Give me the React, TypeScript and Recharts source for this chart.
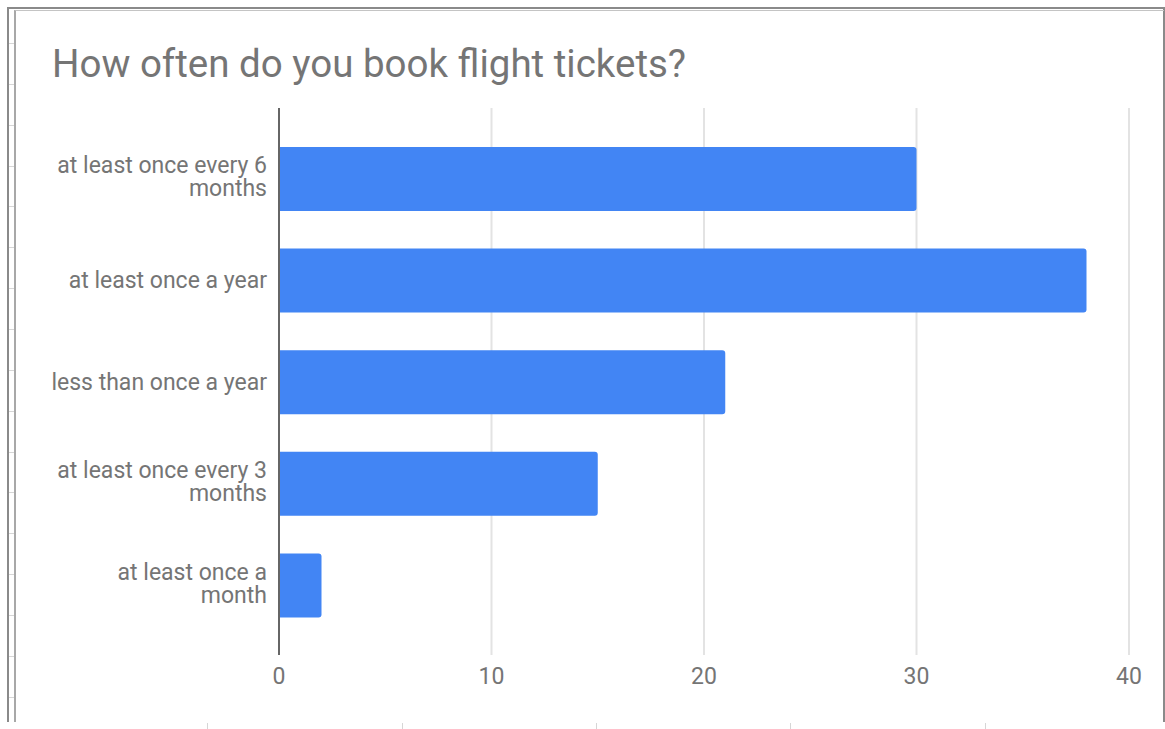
import { BarChart, Bar, XAxis, YAxis, CartesianGrid } from 'recharts'

const categories = [
  'at least once every 6 months',
  'at least once a year',
  'less than once a year',
  'at least once every 3 months',
  'at least once a month',
]
const responses = [30, 38, 21, 15, 2]
const xTicks = [0, 10, 20, 30, 40]

const data = categories.map((name, i) => ({ name, value: responses[i] }))

const leftMarks = Array.from({ length: 17 }, (_, i) => 43 + i * 40.85)
const edgeMarks = [207, 402, 596, 790, 985]

const LABEL_FONT = '23px Roboto'
const LABEL_MAX = 218

let ctx: CanvasRenderingContext2D | null = null
function measure(s: string) {
  if (!ctx) ctx = document.createElement('canvas').getContext('2d')
  if (!ctx) return s.length * 10
  ctx.font = LABEL_FONT
  return ctx.measureText(s).width
}

function wrap(label: string) {
  const words = label.split(' ')
  const lines: string[] = []
  let cur = ''
  for (const w of words) {
    const next = cur ? cur + ' ' + w : w
    if (cur && measure(next) > LABEL_MAX) {
      lines.push(cur)
      cur = w
    } else cur = next
  }
  if (cur) lines.push(cur)
  return lines
}

function CategoryTick({ x, y, payload }: { x?: number; y?: number; payload?: { value: string } }) {
  const lines = wrap(payload?.value ?? '')
  const start = -((lines.length - 1) / 2) * 23
  const nudge = lines.length > 1 ? 6 : 8
  return (
    <text x={x} y={y} textAnchor="end" fill="#757575" style={{ fontSize: 23, fontFamily: 'Roboto' }}>
      {lines.map((l, i) => (
        <tspan key={i} x={x} dy={i === 0 ? start + nudge : 23}>{l}</tspan>
      ))}
    </text>
  )
}

export default function App() {
  return (
    <div style={{ position: 'absolute', left: 0, top: 0, width: 1165, height: 729, background: '#fff', overflow: 'hidden' }}>
      {/* sheet frame */}
      <div style={{ position: 'absolute', left: 7, top: 7, width: 1154, height: 740, borderLeft: '2px solid #8a8a8a', borderTop: '2px solid #8a8a8a', borderRight: '2px solid #8a8a8a' }} />
      <div style={{ position: 'absolute', left: 14, top: 10, width: 1148, height: 712, borderLeft: '2px solid #a8a8a8', borderTop: '1px solid #c4c4c4' }} />
      <div style={{ position: 'absolute', left: 7, top: 722, width: 1158, height: 10, background: '#fff' }} />
      {leftMarks.map(y => (
        <div key={y} style={{ position: 'absolute', left: 9, top: Math.round(y), width: 5, height: 1, background: '#d6d6d6' }} />
      ))}
      {edgeMarks.map(x => (
        <div key={x} style={{ position: 'absolute', left: x, top: 723, width: 1, height: 6, background: '#d6d6d6' }} />
      ))}

      <div style={{ position: 'absolute', left: 52, top: 45, fontFamily: 'Roboto', fontSize: 38.5, lineHeight: '38px', color: '#757575', whiteSpace: 'nowrap' }}>
        How often do you book flight tickets?
      </div>

      <div style={{ position: 'absolute', left: 0, top: 0 }}>
        <BarChart
          width={1165}
          height={729}
          data={data}
          layout="vertical"
          margin={{ top: 108, right: 36, bottom: 24, left: 0 }}
        >
          <CartesianGrid horizontal={false} stroke="#e3e3e3" strokeWidth={2} />
          <XAxis
            type="number"
            domain={[0, 40]}
            ticks={xTicks}
            axisLine={false}
            tickLine={false}
            tickMargin={7}
            height={50}
            tick={{ fontSize: 23, fill: '#757575', fontFamily: 'Roboto' }}
          />
          <YAxis
            type="category"
            dataKey="name"
            width={279}
            padding={{ top: 20, bottom: 19 }}
            axisLine={{ stroke: '#666666', strokeWidth: 2 }}
            tickLine={false}
            tickMargin={6}
            tick={<CategoryTick />}
            interval={0}
          />
          <Bar dataKey="value" fill="#4285f4" barSize={64} radius={[0, 3, 3, 0]} isAnimationActive={false} />
        </BarChart>
      </div>
    </div>
  )
}
